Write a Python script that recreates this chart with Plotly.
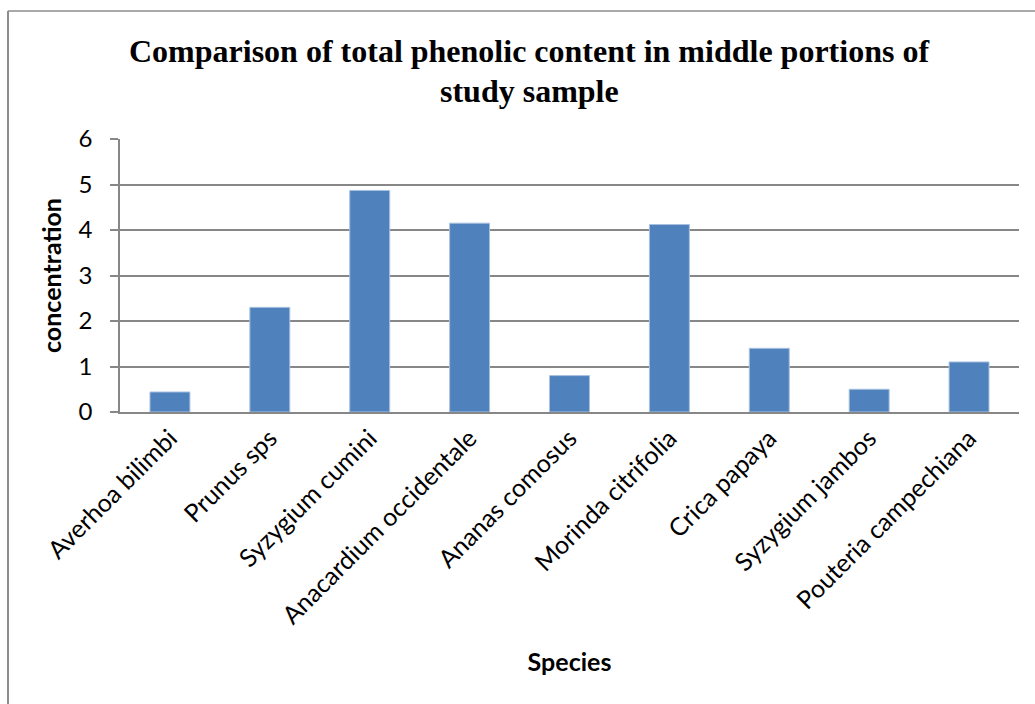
import plotly.graph_objects as go

# Species sampled and their total phenolic content (middle portions)
species = [
    "Averhoa bilimbi",
    "Prunus sps",
    "Syzygium cumini",
    "Anacardium occidentale",
    "Ananas comosus",
    "Morinda citrifolia",
    "Crica papaya",
    "Syzygium jambos",
    "Pouteria campechiana",
]
concentration = [0.44, 2.30, 4.87, 4.15, 0.80, 4.12, 1.40, 0.50, 1.10]
y_ticks = [0, 1, 2, 3, 4, 5, 6]

title_lines = [
    "Comparison of total phenolic content in middle portions of",
    "study sample",
]

W, H = 1035, 704
L, R, T, B = 120, 16, 139, 292
plot_w = W - L - R
plot_h = H - T - B


def px_to_paper_x(px):
    return (px - L) / plot_w


def px_to_paper_y(py):
    return (H - B - py) / plot_h


label_font = "Lato, Carlito, 'Open Sans', sans-serif"
grid_col = "#878787"

fig = go.Figure(
    go.Bar(
        x=species,
        y=concentration,
        marker=dict(color="#4F81BD", line=dict(color="#A9C1E0", width=1)),
    )
)

fig.update_layout(
    width=W,
    height=H,
    margin=dict(l=L, r=R, t=T, b=B, autoexpand=False),
    paper_bgcolor="white",
    plot_bgcolor="white",
    bargap=0.6,
    showlegend=False,
    font=dict(family=label_font, color="#000000"),
)

fig.update_xaxes(
    showline=True,
    linecolor=grid_col,
    linewidth=1.5,
    ticks="",
    tickangle=-45,
    tickfont=dict(size=25, family=label_font, color="#000"),
    automargin=False,
    title=dict(text="<b>Species</b>", font=dict(size=25, family=label_font), standoff=25),
)

fig.update_yaxes(
    range=[0, 6],
    tickvals=y_ticks,
    showgrid=True,
    gridcolor=grid_col,
    gridwidth=1.5,
    zeroline=False,
    showline=True,
    linecolor=grid_col,
    linewidth=1.5,
    ticks="outside",
    ticklen=8,
    tickcolor=grid_col,
    tickwidth=1.5,
    ticklabelstandoff=13,
    tickfont=dict(size=24, family=label_font, color="#000"),
    automargin=False,
    title=dict(text="<b>concentration</b>", font=dict(size=25, family=label_font), standoff=10),
)

# Chart title, two centred lines
for line, py in zip(title_lines, [51, 91]):
    fig.add_annotation(
        text=f"<b>{line}</b>",
        xref="paper",
        yref="paper",
        x=px_to_paper_x(529),
        y=px_to_paper_y(py),
        xanchor="center",
        yanchor="middle",
        showarrow=False,
        font=dict(family="'Liberation Serif', 'Times New Roman', serif", size=32, color="#000"),
    )

# Chart area border (left and top edges inside the window)
fig.add_shape(
    type="line", xref="paper", yref="paper",
    x0=px_to_paper_x(8), x1=px_to_paper_x(8),
    y0=px_to_paper_y(11), y1=px_to_paper_y(710),
    line=dict(color="#8c8c8c", width=2),
)
fig.add_shape(
    type="line", xref="paper", yref="paper",
    x0=px_to_paper_x(8), x1=px_to_paper_x(1040),
    y0=px_to_paper_y(11), y1=px_to_paper_y(11),
    line=dict(color="#8c8c8c", width=1.5),
)

fig.write_html("out.html")
